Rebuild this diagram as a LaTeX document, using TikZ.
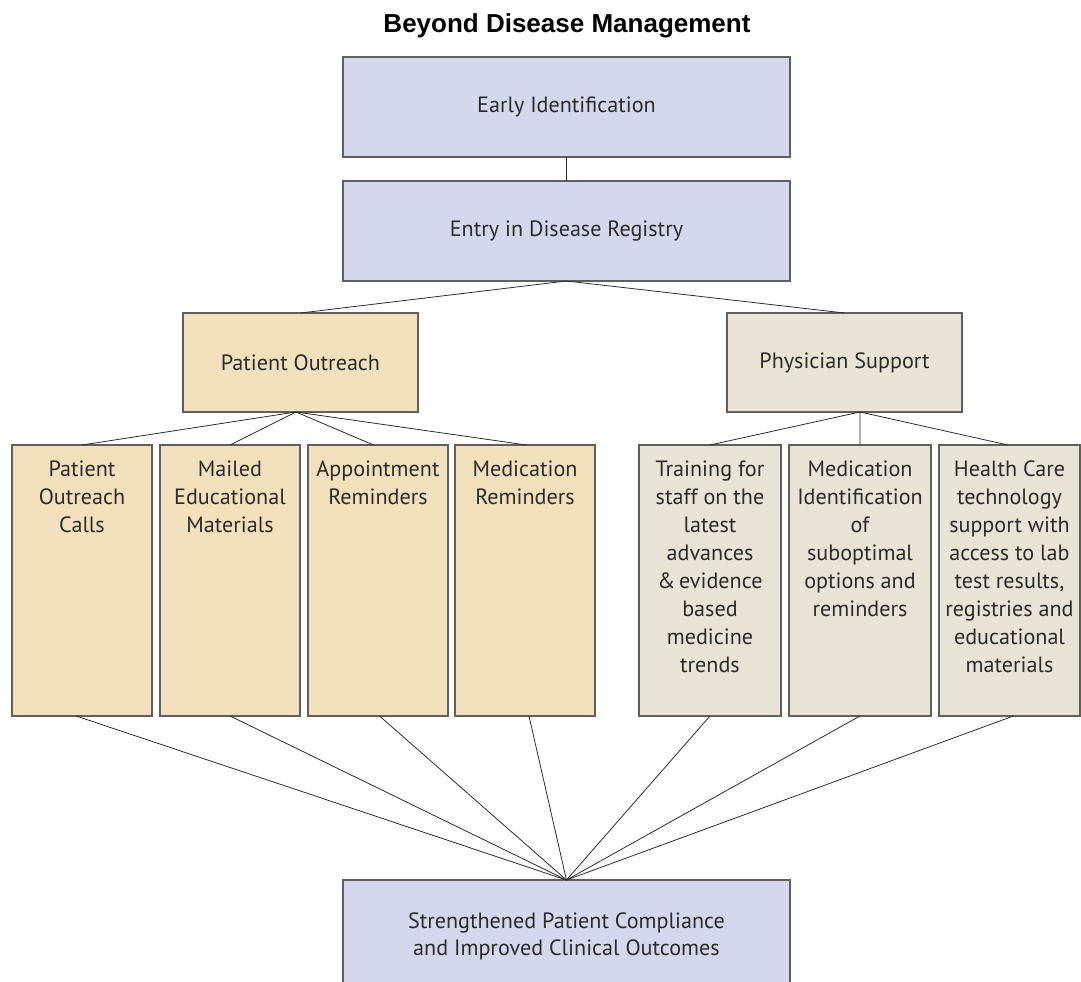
\documentclass[tikz,border=0pt]{standalone}
\usepackage{fontspec}
\setmainfont{PT Sans}
\newfontfamily\titlefont{Liberation Sans}
\usetikzlibrary{calc}
\definecolor{lav}{HTML}{D5D7EC}
\definecolor{tanbox}{HTML}{F3E1BE}
\definecolor{beige}{HTML}{E8E4D6}
\definecolor{edgegray}{HTML}{606060}
\definecolor{ink}{HTML}{2B2B2B}
\begin{document}
\begin{tikzpicture}[x=0.02cm,y=-0.02cm,
  box/.style={draw=edgegray,line width=0.75pt,inner sep=0pt,outer sep=0pt,anchor=north west,
    text=ink,align=center,font=\fontsize{12.6pt}{15.4pt}\selectfont},
  bigbox/.style={box,minimum width=8.94cm,minimum height=2cm,fill=lav},
  midbox/.style={box,minimum width=4.7cm,minimum height=1.98cm},
  smallbox/.style={box,minimum width=2.8cm,minimum height=5.42cm},
  lbl/.style={text=ink,font=\fontsize{12.6pt}{16pt}\selectfont,align=center,inner sep=0pt,anchor=north},
  link/.style={draw=ink,line width=0.45pt}]
\useasboundingbox (0,0) rectangle (1081,981);
\node[font=\titlefont\bfseries\fontsize{14.8pt}{16pt}\selectfont,text=black] (title) at (567,26) {Beyond Disease Management};
\node[bigbox] (early) at (343,57) {\raisebox{-2pt}{Early Identification}};
\node[bigbox] (entry) at (343,181) {\raisebox{-2pt}{Entry in Disease Registry}};
\node[midbox,fill=tanbox] (po) at (183,313) {Patient Outreach};
\node[midbox,fill=beige] (ps) at (727,313) {Physician Support};
\node[smallbox,fill=tanbox] (c1) at (12,445) {};
\node[smallbox,fill=tanbox] (c2) at (160,445) {};
\node[smallbox,fill=tanbox] (c3) at (308,445) {};
\node[smallbox,fill=tanbox] (c4) at (455,445) {};
\node[smallbox,fill=beige,minimum width=2.84cm] (c5) at (639,445) {};
\node[smallbox,fill=beige,minimum width=2.84cm] (c6) at (789,445) {};
\node[smallbox,fill=beige,minimum width=2.82cm] (c7) at (939,445) {};
\node[bigbox,minimum height=2.24cm] (out) at (343,880) {Strengthened Patient Compliance\\and Improved Clinical Outcomes};
\node[lbl] (t1) at ([yshift=-0.3cm]c1.north) {Patient\\Outreach\\Calls};
\node[lbl] (t2) at ([yshift=-0.3cm]c2.north) {Mailed\\Educational\\Materials};
\node[lbl] (t3) at ([yshift=-0.3cm]c3.north) {Appointment\\Reminders};
\node[lbl] (t4) at ([yshift=-0.3cm]c4.north) {Medication\\Reminders};
\node[lbl] (t5) at ([yshift=-0.3cm]c5.north) {Training for\\staff on the\\latest\\advances\\\&\,evidence\\based\\medicine\\trends};
\node[lbl] (t6) at ([yshift=-0.3cm]c6.north) {Medication\\Identification\\of\\suboptimal\\options and\\reminders};
\node[lbl] (t7) at ([yshift=-0.3cm]c7.north) {Health Care\\technology\\support with\\access to lab\\test results,\\registries and\\educational\\materials};
\coordinate (poj) at ([xshift=-0.09cm]po.south);
\coordinate (psj) at ([xshift=0.31cm]ps.south);
\draw[link] (early.south) -- (entry.north);
\draw[link] (entry.south) -- (po.north);
\draw[link] (entry.south) -- (ps.north);
\draw[link] (poj) -- (c1.north);
\draw[link] (poj) -- (c2.north);
\draw[link] (poj) -- ([xshift=-0.09cm]c3.north);
\draw[link] (poj) -- ([xshift=0.03cm]c4.north);
\draw[link] (psj) -- (c5.north);
\draw[link] (psj) -- (c6.north);
\draw[link] (psj) -- ([xshift=-0.03cm]c7.north);
\draw[link] ([xshift=-0.12cm]c1.south) -- (out.north);
\draw[link] (c2.south) -- (out.north);
\draw[link] ([xshift=0.03cm]c3.south) -- (out.north);
\draw[link] ([xshift=0.08cm]c4.south) -- (out.north);
\draw[link] (c5.south) -- (out.north);
\draw[link] (c6.south) -- (out.north);
\draw[link] ([xshift=0.08cm]c7.south) -- (out.north);
\end{tikzpicture}
\end{document}
